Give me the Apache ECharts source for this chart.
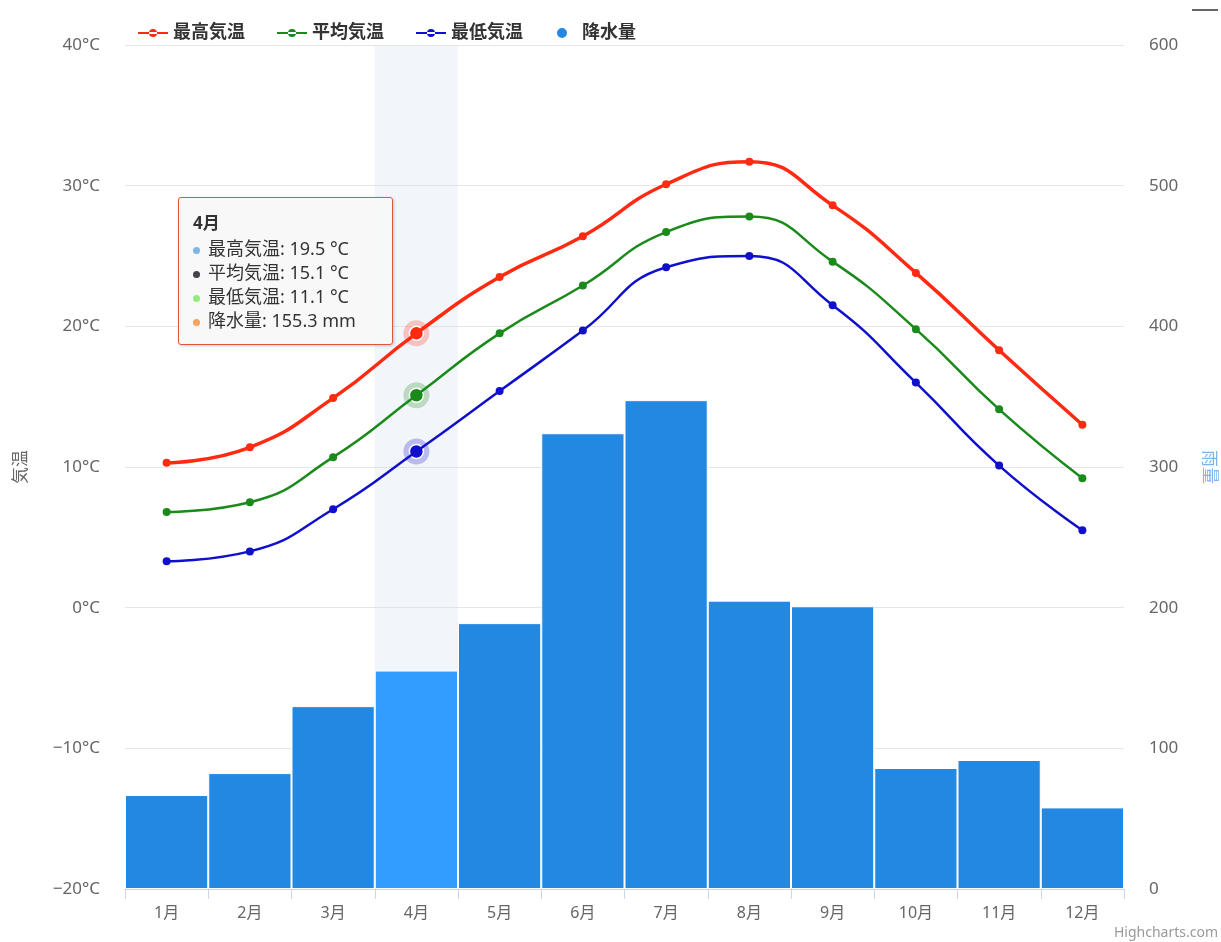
<!DOCTYPE html>
<html>
<head>
<meta charset="utf-8">
<script src="https://cdn.jsdelivr.net/npm/echarts@6/dist/echarts.min.js"></script>
<style>
html,body{margin:0;padding:0;background:#fff;}
#chart{width:1221px;height:942px;}
</style>
</head>
<body>
<div id="chart"></div>
<script>
const months = ['1月','2月','3月','4月','5月','6月','7月','8月','9月','10月','11月','12月'];
const maxTemp = [10.3, 11.4, 14.9, 19.5, 23.5, 26.4, 30.1, 31.7, 28.6, 23.8, 18.3, 13.0];
const avgTemp = [6.8, 7.5, 10.7, 15.1, 19.5, 22.9, 26.7, 27.8, 24.6, 19.8, 14.1, 9.2];
const minTemp = [3.3, 4.0, 7.0, 11.1, 15.4, 19.7, 24.2, 25.0, 21.5, 16.0, 10.1, 5.5];
const rainfall = [66.8, 82.4, 130.0, 155.3, 189.0, 324.0, 347.5, 205.0, 201.0, 86.0, 91.7, 58.0];
const seriesNames = ['最高気温', '平均気温', '最低気温', '降水量'];
const activeIndex = 3;

const FONT = '"Noto Sans", "Noto Sans CJK JP", sans-serif';
const chart = echarts.init(document.getElementById('chart'));

function lineSeries(name, data, color, width, halo) {
  return {
    name: name, type: 'line', yAxisIndex: 0, data: data, smooth: true, z: 5,
    symbol: 'circle', symbolSize: 8, showSymbol: true,
    lineStyle: {color: color, width: width},
    itemStyle: {color: color},
    emphasis: {disabled: true},
    markPoint: {
      silent: true,
      label: {show: false},
      animation: false,
      data: [
        {coord: [activeIndex, data[activeIndex]], symbol: 'circle', symbolSize: 26,
         itemStyle: {color: halo, borderWidth: 0}},
        {coord: [activeIndex, data[activeIndex]], symbol: 'circle', symbolSize: 14,
         itemStyle: {color: color, borderColor: '#ffffff', borderWidth: 1.5}}
      ]
    }
  };
}

chart.setOption({
  animation: false,
  textStyle: {fontFamily: FONT},
  grid: {left: 125, right: 97, top: 45, bottom: 53, containLabel: false, outerBoundsMode: 'none'},
  legend: {
    top: 19, left: 133, itemGap: 32, itemWidth: 30, itemHeight: 12,
    textStyle: {fontSize: 18, fontWeight: 'bold', color: '#333', fontFamily: FONT},
    data: [
      {name: seriesNames[0], icon: 'path://M0,5 L30,5 L30,7 L0,7 Z M11,6 A4,4 0 1,0 19,6 A4,4 0 1,0 11,6 Z'},
      {name: seriesNames[1], icon: 'path://M0,5 L30,5 L30,7 L0,7 Z M11,6 A4,4 0 1,0 19,6 A4,4 0 1,0 11,6 Z'},
      {name: seriesNames[2], icon: 'path://M0,5 L30,5 L30,7 L0,7 Z M11,6 A4,4 0 1,0 19,6 A4,4 0 1,0 11,6 Z'},
      {name: seriesNames[3], icon: 'circle', itemStyle: {color: '#2288e2'}}
    ]
  },
  tooltip: {
    trigger: 'axis',
    triggerOn: 'none',
    alwaysShowContent: true,
    position: [178, 197],
    backgroundColor: 'rgba(247,247,247,0.92)',
    borderColor: '#e2553f',
    borderWidth: 1.5,
    borderRadius: 3,
    padding: [12, 36, 12, 14],
    extraCssText: 'box-shadow:1px 1px 3px rgba(0,0,0,0.2);',
    textStyle: {fontFamily: FONT, fontSize: 18, color: '#333'},
    axisPointer: {type: 'shadow', z: 0, shadowStyle: {color: 'rgba(204,214,235,0.25)'}},
    formatter: function (params) {
      const dot = c => '<span style="display:inline-block;width:7px;height:7px;border-radius:50%;background:' + c + ';margin-right:8px;vertical-align:middle;"></span>';
      const cols = ['#7cb5ec', '#434348', '#90ed7d', '#f7a35c'];
      let s = '<div style="font-weight:bold;line-height:26px;font-size:17px;">' + params[0].axisValue + '</div>';
      params.forEach(p => {
        const unit = p.seriesIndex === 3 ? ' mm' : ' °C';
        s += '<div style="line-height:24px;">' + dot(cols[p.seriesIndex]) + p.seriesName + ': ' + p.value + unit + '</div>';
      });
      return s;
    }
  },
  xAxis: {
    type: 'category', data: months,
    axisLine: {onZero: false, lineStyle: {color: '#ccd6eb', width: 1}},
    axisTick: {show: true, length: 10, lineStyle: {color: '#ccd6eb'}},
    axisLabel: {color: '#666', fontSize: 16, margin: 16, fontFamily: FONT},
    splitLine: {show: false}
  },
  yAxis: [
    {
      type: 'value', min: -20, max: 40, interval: 10, position: 'left',
      name: '気温', nameLocation: 'middle', nameGap: 95, nameRotate: 90,
      nameTextStyle: {color: '#666', fontSize: 17, fontFamily: FONT},
      axisLabel: {formatter: v => String(v).replace('-', '\u2212') + '°C', color: '#666', fontSize: 17, margin: 25, fontFamily: FONT},
      axisLine: {show: false}, axisTick: {show: false},
      splitLine: {lineStyle: {color: '#e6e6e6', width: 1}}
    },
    {
      type: 'value', min: 0, max: 600, interval: 100, position: 'right',
      name: '雨量', nameLocation: 'middle', nameGap: 76, nameRotate: -90,
      nameTextStyle: {color: '#7cb5ec', fontSize: 17, fontFamily: FONT},
      axisLabel: {color: '#666', fontSize: 17, margin: 25, fontFamily: FONT},
      axisLine: {show: false}, axisTick: {show: false},
      splitLine: {show: false}
    }
  ],
  series: [
    lineSeries(seriesNames[0], maxTemp, '#ff2a12', 3.5, 'rgba(255,42,18,0.25)'),
    lineSeries(seriesNames[1], avgTemp, '#1a8a1a', 2.5, 'rgba(26,138,26,0.25)'),
    lineSeries(seriesNames[2], minTemp, '#1010cc', 2.5, 'rgba(16,16,204,0.25)'),
    {
      name: seriesNames[3], type: 'bar', yAxisIndex: 1, data: rainfall, z: 2,
      barCategoryGap: '0%',
      itemStyle: {color: '#2288e2', borderColor: '#ffffff', borderWidth: 1},
      emphasis: {itemStyle: {color: '#339dff', borderColor: '#ffffff', borderWidth: 1}}
    }
  ],
  graphic: [
    {type: 'text', right: 3, bottom: 2, style: {text: 'Highcharts.com', fill: '#999', fontSize: 14, fontFamily: FONT}},
    {type: 'rect', right: 3, top: 9, shape: {width: 26, height: 2}, style: {fill: '#666'}}
  ]
});

chart.dispatchAction({type: 'showTip', seriesIndex: 3, dataIndex: activeIndex});
chart.dispatchAction({type: 'highlight', seriesIndex: 3, dataIndex: activeIndex});
</script>
</body>
</html>
